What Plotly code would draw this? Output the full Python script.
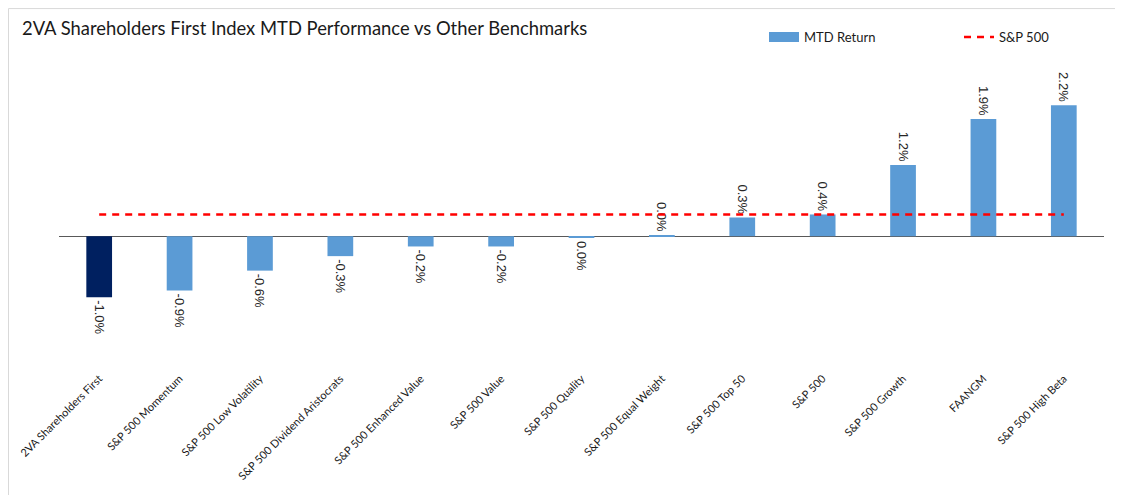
import plotly.graph_objects as go

categories = [
    "2VA Shareholders First", "S&P 500 Momentum", "S&P 500 Low Volatility",
    "S&P 500 Dividend Aristocrats", "S&P 500 Enhanced Value", "S&P 500 Value",
    "S&P 500 Quality", "S&P 500 Equal Weight", "S&P 500 Top 50", "S&P 500",
    "S&P 500 Growth", "FAANGM", "S&P 500 High Beta",
]
mtd_return = [-1.01, -0.90, -0.57, -0.33, -0.17, -0.17, -0.02, 0.02, 0.31, 0.36, 1.18, 1.94, 2.17]
sp500_level = 0.36

DARK = "#002060"
BLUE = "#5B9BD5"
bar_colors = [DARK] + [BLUE] * (len(categories) - 1)
labels = [f"{(round(v, 1) + 0.0):.1f}%" for v in mtd_return]

OFF = 8  # default page body margin
W, H = 1123 - 2 * OFF, 503 - 2 * OFF
plot_left, plot_right = 59 - OFF, 1104 - OFF
plot_top, plot_bottom = 55 - OFF, 357.5 - OFF
L, R, T, B = plot_left, W - plot_right, plot_top, H - plot_bottom
plot_w = plot_right - plot_left
plot_h = plot_bottom - plot_top


def px_x(p):  # figure pixel -> paper x
    return (p - L) / plot_w


def px_y(p):  # figure pixel -> paper y
    return (plot_bottom - p) / plot_h


fig = go.Figure()
fig.add_trace(go.Bar(
    x=categories, y=mtd_return, marker=dict(color=bar_colors, line=dict(width=0)),
    text=labels, textposition="outside", textangle=90, constraintext="none",
    textfont=dict(family="Liberation Sans, Arial", size=13, color="#262626"),
    cliponaxis=False, showlegend=False, name="MTD Return",
))
# legend proxy for bars
fig.add_trace(go.Scatter(
    x=[None], y=[None], mode="lines", name="MTD Return",
    line=dict(color=BLUE, width=10),
))
fig.add_trace(go.Scatter(
    x=categories, y=[sp500_level] * len(categories), mode="lines", name="S&P 500",
    line=dict(color="#FF0000", width=2.5, dash="7px,6px"),
))

fig.update_layout(
    width=W, height=H,
    margin=dict(l=L, r=R, t=T, b=B, autoexpand=False),
    paper_bgcolor="white", plot_bgcolor="white",
    bargap=0.68,
    title=dict(
        text="2VA Shareholders First Index MTD Performance vs Other Benchmarks",
        font=dict(family="Lato, Open Sans, sans-serif", size=18.4, color="#1a1a1a"),
        x=(22 - OFF) / W, xanchor="left", xref="container",
        y=1 - (29 - OFF) / H, yanchor="middle", yref="container",
    ),
    legend=dict(
        orientation="h", x=px_x(756), xanchor="left", y=px_y(37 - OFF), yanchor="middle",
        font=dict(family="Lato, Open Sans, sans-serif", size=13, color="#1a1a1a"),
        bgcolor="rgba(0,0,0,0)", entrywidth=150, entrywidthmode="pixels",
        itemwidth=30,
    ),
    xaxis=dict(
        showline=False, ticks="outside", ticklen=10, tickcolor="rgba(0,0,0,0)",
        showgrid=False, tickangle=-45,
        tickfont=dict(family="Lato, Open Sans, sans-serif", size=11, color="#1a1a1a"),
        fixedrange=True,
    ),
    yaxis=dict(
        range=[-2, 3], showticklabels=False, showgrid=False, ticks="",
        zeroline=True, zerolinecolor="#595959", zerolinewidth=1.3, showline=False,
        fixedrange=True,
    ),
    shapes=[
        dict(type="line", xref="paper", yref="paper", x0=px_x(0.5), x1=px_x(W + 5),
             y0=px_y(0.5), y1=px_y(0.5), line=dict(color="#d9d9d9", width=1)),
        dict(type="line", xref="paper", yref="paper", x0=px_x(0.5), x1=px_x(0.5),
             y0=px_y(0.5), y1=px_y(H + 5), line=dict(color="#d9d9d9", width=1)),
    ],
)

fig.write_html("out.html")
